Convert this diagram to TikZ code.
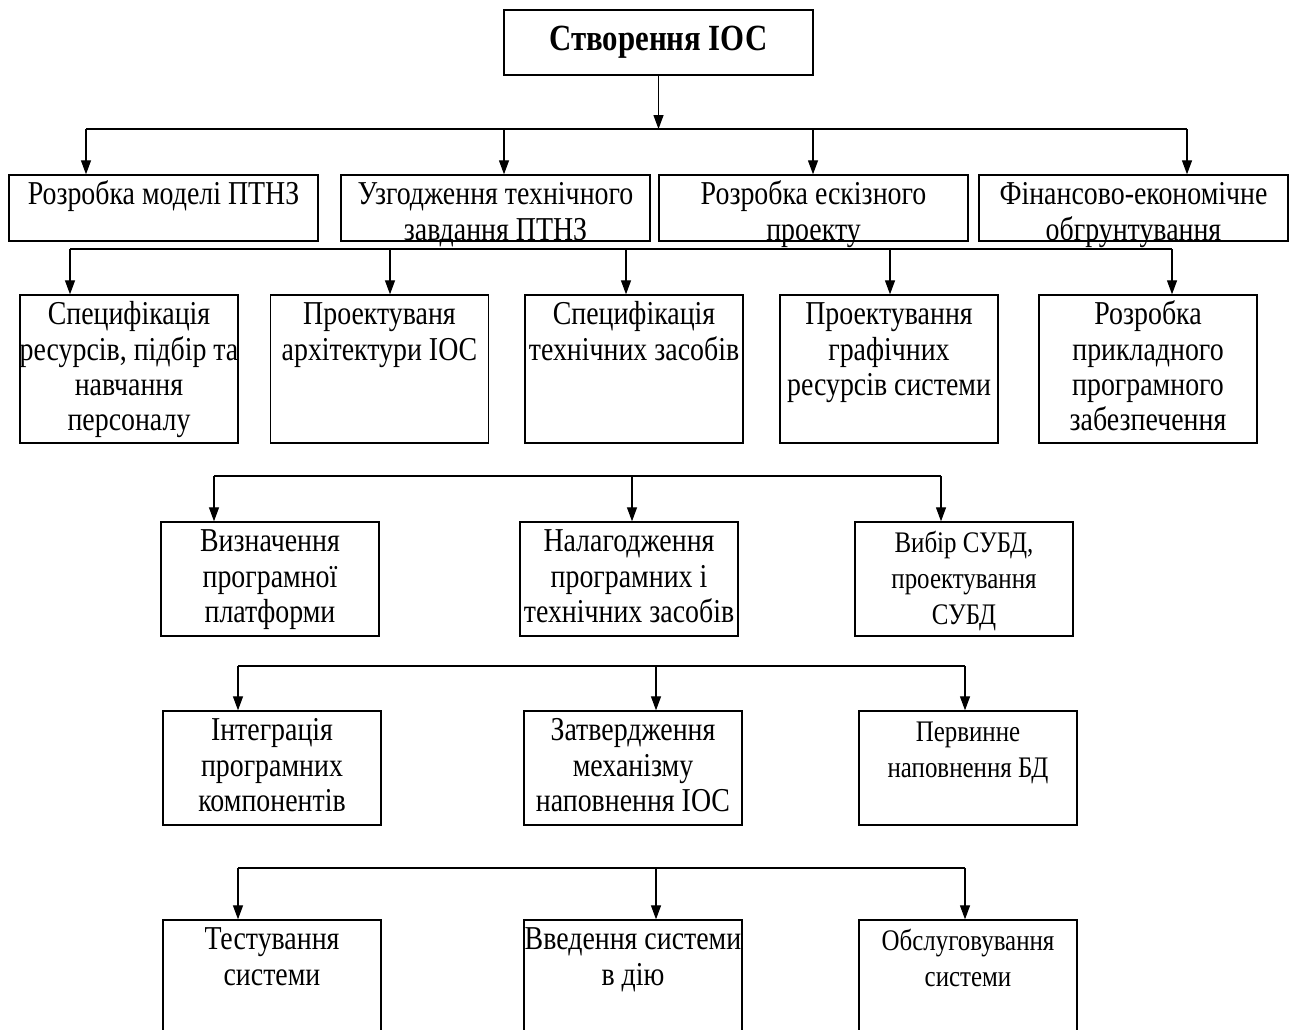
\documentclass[tikz,border=0pt]{standalone}
\usepackage{fontspec}
\setmainfont[FakeStretch=0.835]{Liberation Serif}
\usetikzlibrary{arrows.meta}
% text at the top of a fixed box, lines never wrapped
\newcommand{\toptext}[3]{\parbox[c][#1][t]{#2}{\vspace*{3pt}\noindent\makebox[#2]{\begin{tabular}{@{}c@{}}#3\end{tabular}}}}
\tikzset{
  box/.style={draw, rectangle, inner sep=0pt, line width=0.8pt},
  link/.style={-{Triangle[length=0.28cm, width=0.2cm]}, line width=0.7pt},
  bus/.style={line width=0.7pt},
  small/.style={font=\fontsize{17}{20.5}\selectfont}
}
\begin{document}
\begin{tikzpicture}[x=0.02cm, y=-0.02cm, font=\fontsize{19}{20}\selectfont]
\useasboundingbox (0,0) rectangle (1290,1029);
\clip (0,0) rectangle (1290,1029);

% Root
\node[box, minimum width=6.18cm, minimum height=1.3cm, font=\fontsize{21}{24}\selectfont\bfseries] (root) at (658.5,42.5) {Створення ІОС};

% Level 2
\node[box] (mod) at (163.5,208) {\toptext{1.32cm}{6.18cm}{Розробка моделі ПТНЗ}};
\node[box] (agr) at (495.5,208) {\toptext{1.32cm}{6.18cm}{Узгодження технічного\\завдання ПТНЗ}};
\node[box] (esk) at (813.5,208) {\toptext{1.32cm}{6.18cm}{Розробка ескізного\\проекту}};
\node[box] (fin) at (1133.5,208) {\toptext{1.32cm}{6.18cm}{Фінансово-економічне\\обгрунтування}};

% Level 3
\node[box] (res) at (129,369) {\toptext{2.96cm}{4.36cm}{Специфікація\\ресурсів, підбір та\\навчання\\персоналу}};
\node[box] (arch) at (379.5,369) {\toptext{2.96cm}{4.36cm}{Проектуваня\\архітектури ІОС}};
\node[box] (tech) at (634,369) {\toptext{2.96cm}{4.36cm}{Специфікація\\технічних засобів}};
\node[box] (graph) at (889,369) {\toptext{2.96cm}{4.36cm}{Проектування\\графічних\\ресурсів системи}};
\node[box] (soft) at (1148,369) {\toptext{2.96cm}{4.36cm}{Розробка\\прикладного\\програмного\\забезпечення}};

% Level 4
\node[box] (plat) at (270,579) {\toptext{2.28cm}{4.36cm}{Визначення\\програмної\\платформи}};
\node[box] (debug) at (629,579) {\toptext{2.28cm}{4.36cm}{Налагодження\\програмних і\\технічних засобів}};
\node[box, small] (dbms) at (964,579) {\toptext{2.28cm}{4.36cm}{Вибір СУБД,\\проектування\\СУБД}};

% Level 5
\node[box] (integ) at (272,768) {\toptext{2.28cm}{4.36cm}{Інтеграція\\програмних\\компонентів}};
\node[box] (fill) at (633,768) {\toptext{2.28cm}{4.36cm}{Затвердження\\механізму\\наповнення ІОС}};
\node[box, small] (db) at (968,768) {\toptext{2.28cm}{4.36cm}{Первинне\\наповнення БД}};

% Level 6 (cut by the lower edge)
\node[box] (test) at (272,995) {\toptext{3cm}{4.36cm}{Тестування\\системи}};
\node[box] (run) at (633,995) {\toptext{3cm}{4.36cm}{Введення системи\\в дію}};
\node[box, small] (serv) at (968,995) {\toptext{3cm}{4.36cm}{Обслуговування\\системи}};

% Bus points
\coordinate (a1) at (86,129);   \coordinate (a2) at (504,129);
\coordinate (a3) at (813,129);  \coordinate (a4) at (1187,129);
\coordinate (b1) at (70,249);   \coordinate (b2) at (390,249);
\coordinate (b3) at (626,249);  \coordinate (b4) at (890,249);
\coordinate (b5) at (1172,249);
\coordinate (c1) at (214,476);  \coordinate (c2) at (632,476);
\coordinate (c3) at (941,476);
\coordinate (d1) at (238,666);  \coordinate (d2) at (656,666);
\coordinate (d3) at (965,666);
\coordinate (e1) at (238,868);  \coordinate (e2) at (656,868);
\coordinate (e3) at (965,868);

% Arrows
\draw[link] (root.south) -- (root.south |- a1);
\draw[bus] (a1) -- (a4);
\draw[bus] (b1) -- (b5);
\draw[bus] (c1) -- (c3);
\draw[bus] (d1) -- (d3);
\draw[bus] (e1) -- (e3);

\foreach \p/\n in {a1/mod, a2/agr, a3/esk, a4/fin,
                   b1/res, b2/arch, b3/tech, b4/graph, b5/soft,
                   c1/plat, c2/debug, c3/dbms,
                   d1/integ, d2/fill, d3/db,
                   e1/test, e2/run, e3/serv}
  \draw[link] (\p) -- (\p |- \n.north);
\end{tikzpicture}
\end{document}
